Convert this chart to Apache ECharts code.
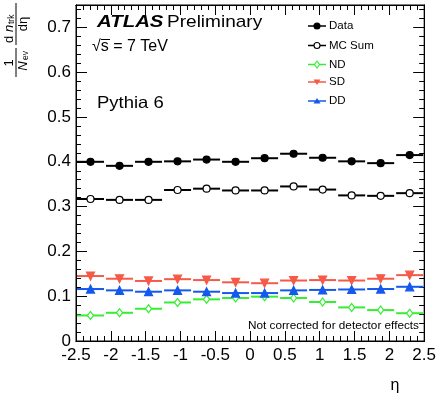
<!DOCTYPE html>
<html>
<head>
<meta charset="utf-8">
<script src="https://cdn.jsdelivr.net/npm/echarts@6/dist/echarts.min.js"></script>
<style>
  html, body { margin: 0; padding: 0; background: #fff; }
  #chart { width: 439px; height: 400px; }
</style>
</head>
<body>
<div id="chart"></div>
<script>
// Pseudorapidity bin edges (12 bins)
const etaEdges = [-2.5, -2.0833, -1.6667, -1.25, -0.8333, -0.4167, 0, 0.4167, 0.8333, 1.25, 1.6667, 2.0833, 2.5];

// Charged-particle density per bin
const dataValues  = [0.400, 0.391, 0.400, 0.401, 0.405, 0.400, 0.408, 0.418, 0.409, 0.401, 0.397, 0.415];
const mcSumValues = [0.317, 0.315, 0.315, 0.337, 0.340, 0.336, 0.336, 0.345, 0.338, 0.325, 0.324, 0.330];
const ndValues    = [0.057, 0.063, 0.072, 0.086, 0.093, 0.096, 0.099, 0.096, 0.087, 0.075, 0.069, 0.062];
const sdValues    = [0.145, 0.139, 0.134, 0.138, 0.136, 0.131, 0.129, 0.135, 0.136, 0.135, 0.139, 0.147];
const ddValues    = [0.116, 0.113, 0.110, 0.113, 0.110, 0.107, 0.107, 0.113, 0.114, 0.115, 0.116, 0.121];

const seriesNames = ['Data', 'MC Sum', 'ND', 'SD', 'DD'];
const xTickLabels = ['-2.5', '-2', '-1.5', '-1', '-0.5', '0', '0.5', '1', '1.5', '2', '2.5'];
const yTickLabels = ['0', '0.1', '0.2', '0.3', '0.4', '0.5', '0.6', '0.7'];

const FONT = '"Liberation Sans", Arial, Helvetica, sans-serif';

const styles = [
  { color: '#000000', symbol: 'circle',   size: 7,      fill: '#000000', rotate: 0 },
  { color: '#000000', symbol: 'circle',   size: 7,      fill: '#ffffff', rotate: 0 },
  { color: '#33ee33', symbol: 'diamond',  size: [6, 8], fill: '#ffffff', rotate: 0 },
  { color: '#f55a48', symbol: 'triangle', size: 8,      fill: '#f55a48', rotate: 180 },
  { color: '#1558ee', symbol: 'triangle', size: 8,      fill: '#1558ee', rotate: 0 }
];
const allValues = [dataValues, mcSumValues, ndValues, sdValues, ddValues];

const chart = echarts.init(document.getElementById('chart'), null, { renderer: 'canvas' });

const series = [];
// bin-width bars, drawn behind the markers
allValues.forEach((vals, k) => {
  series.push({
    type: 'custom',
    name: seriesNames[k] + ' bins',
    xAxisIndex: 0, yAxisIndex: 0,
    encode: { x: [0, 1], y: 2 },
    data: vals.map((v, i) => [etaEdges[i], etaEdges[i + 1], v]),
    renderItem: (params, api) => {
      const a = api.coord([api.value(0), api.value(2)]);
      const b = api.coord([api.value(1), api.value(2)]);
      return {
        type: 'line',
        shape: { x1: a[0] + 1, y1: a[1], x2: b[0] - 1, y2: b[1] },
        style: { stroke: styles[k].color, lineWidth: 2 }
      };
    },
    silent: true, z: 2
  });
});
// markers at the bin centres
allValues.forEach((vals, k) => {
  const s = styles[k];
  series.push({
    type: 'scatter',
    name: seriesNames[k],
    xAxisIndex: 0, yAxisIndex: 0,
    data: vals.map((v, i) => [(etaEdges[i] + etaEdges[i + 1]) / 2, v]),
    symbol: s.symbol,
    symbolSize: s.size,
    symbolRotate: s.rotate,
    itemStyle: { color: s.fill, borderColor: s.color, borderWidth: 1.2, opacity: 1 },
    silent: true, z: 3
  });
});

// legend drawn as graphic elements
const legendX = 308, legendYs = [26, 45.5, 64.5, 82, 101];
const legendGraphics = [];
seriesNames.forEach((name, k) => {
  const s = styles[k];
  const y = legendYs[k];
  const cx = 317;
  legendGraphics.push({
    type: 'line', shape: { x1: legendX, y1: y, x2: legendX + 18, y2: y },
    style: { stroke: s.color, lineWidth: 1.5 }
  });
  let marker;
  if (s.symbol === 'circle') {
    marker = { type: 'circle', shape: { cx: cx, cy: y, r: 3 }, style: { fill: s.fill, stroke: s.color, lineWidth: 1.1 } };
  } else if (s.symbol === 'diamond') {
    marker = { type: 'polygon', shape: { points: [[cx, y - 3.5], [cx + 2.5, y], [cx, y + 3.5], [cx - 2.5, y]] }, style: { fill: '#fff', stroke: s.color, lineWidth: 1.1 } };
  } else if (s.rotate === 180) {
    marker = { type: 'polygon', shape: { points: [[cx - 3.5, y - 2.5], [cx + 3.5, y - 2.5], [cx, y + 3]] }, style: { fill: s.fill } };
  } else {
    marker = { type: 'polygon', shape: { points: [[cx - 3.5, y + 2.5], [cx + 3.5, y + 2.5], [cx, y - 3]] }, style: { fill: s.fill } };
  }
  legendGraphics.push(marker);
  legendGraphics.push({
    type: 'text', x: 329, y: y,
    style: { text: name, font: '11.5px ' + FONT, fill: '#000', verticalAlign: 'middle' }
  });
});

// rotated y-axis title: 1/N_ev dn_trk/dη
const yTitle = {
  type: 'group', x: 3, y: 80, rotation: Math.PI / 2,
  children: [
    { type: 'text', x: 17, y: 6, style: { text: '1', font: '13px ' + FONT, fill: '#000', align: 'center', verticalAlign: 'middle' } },
    { type: 'line', shape: { x1: 3, y1: 13, x2: 32, y2: 13 }, style: { stroke: '#000', lineWidth: 1 } },
    { type: 'text', x: 14, y: 20, style: { text: 'N', font: 'italic 13px ' + FONT, fill: '#000', align: 'center', verticalAlign: 'middle' } },
    { type: 'text', x: 20, y: 23, style: { text: 'ev', font: '8.5px ' + FONT, fill: '#000', align: 'left', verticalAlign: 'middle' } },
    { type: 'text', x: 37, y: 6, style: { text: 'd', font: '13px ' + FONT, fill: '#000', align: 'left', verticalAlign: 'middle' } },
    { type: 'text', x: 48, y: 6, style: { text: 'n', font: 'italic 13px ' + FONT, fill: '#000', align: 'left', verticalAlign: 'middle' } },
    { type: 'text', x: 56, y: 9, style: { text: 'trk', font: '8.5px ' + FONT, fill: '#000', align: 'left', verticalAlign: 'middle' } },
    { type: 'line', shape: { x1: 35, y1: 13, x2: 77, y2: 13 }, style: { stroke: '#000', lineWidth: 1 } },
    { type: 'text', x: 56, y: 20, style: { text: 'dη', font: '13px ' + FONT, fill: '#000', align: 'center', verticalAlign: 'middle' } }
  ]
};

const textGraphics = [
  { type: 'text', x: 97, y: 22, scaleX: 1.2, style: { text: 'ATLAS', font: 'italic bold 17px ' + FONT, fill: '#000', verticalAlign: 'middle' } },
  { type: 'text', x: 167, y: 22, scaleX: 1.12, style: { text: 'Preliminary', font: '17px ' + FONT, fill: '#000', verticalAlign: 'middle' } },
  { type: 'text', x: 92, y: 47, style: { text: '√s = 7 TeV', font: '16px ' + FONT, fill: '#000', verticalAlign: 'middle' } },
  { type: 'line', shape: { x1: 101, y1: 39.5, x2: 110, y2: 39.5 }, style: { stroke: '#000', lineWidth: 1 } },
  { type: 'text', x: 97, y: 103, scaleX: 1.12, style: { text: 'Pythia 6', font: '16.5px ' + FONT, fill: '#000', verticalAlign: 'middle' } },
  { type: 'text', x: 419, y: 326, scaleX: 1.12, style: { text: 'Not corrected for detector effects', font: '10.5px ' + FONT, fill: '#000', align: 'right', verticalAlign: 'middle' } },
  { type: 'text', x: 395, y: 386, style: { text: 'η', font: '16px ' + FONT, fill: '#000', align: 'center', verticalAlign: 'middle' } }
];

const axisLineStyle = { show: true, onZero: false, lineStyle: { color: '#000', width: 1 } };
const baseX = { type: 'value', min: -2.5, max: 2.5, splitLine: { show: false }, axisLine: axisLineStyle };
const baseY = { type: 'value', min: 0, max: 0.75, splitLine: { show: false }, axisLine: axisLineStyle };

function fmt(v, labels) {
  const s = String(Math.round(v * 10) / 10);
  return labels.indexOf(s) >= 0 ? s : '';
}

const option = {
  animation: false,
  backgroundColor: '#fff',
  grid: { left: 76, right: 12, top: 5, bottom: 59, show: true, borderColor: '#000', borderWidth: 1, backgroundColor: 'transparent' },
  xAxis: [
    Object.assign({}, baseX, { position: 'bottom', interval: 0.5,
      axisTick: { show: true, inside: true, length: 10, lineStyle: { color: '#000' } },
      axisLabel: { show: true, margin: 6, color: '#000', fontSize: 17, fontFamily: FONT,
        formatter: v => fmt(v, xTickLabels) } }),
    Object.assign({}, baseX, { position: 'bottom', interval: 0.1,
      axisTick: { show: true, inside: true, length: 5, lineStyle: { color: '#000' } },
      axisLabel: { show: false } }),
    Object.assign({}, baseX, { position: 'top', interval: 0.5,
      axisTick: { show: true, inside: true, length: 10, lineStyle: { color: '#000' } },
      axisLabel: { show: false } }),
    Object.assign({}, baseX, { position: 'top', interval: 0.1,
      axisTick: { show: true, inside: true, length: 5, lineStyle: { color: '#000' } },
      axisLabel: { show: false } })
  ],
  yAxis: [
    Object.assign({}, baseY, { position: 'left', interval: 0.1,
      axisTick: { show: true, inside: true, length: 11, lineStyle: { color: '#000' } },
      axisLabel: { show: true, margin: 5, color: '#000', fontSize: 17, fontFamily: FONT,
        showMaxLabel: false, formatter: v => fmt(v, yTickLabels) } }),
    Object.assign({}, baseY, { position: 'left', interval: 0.02,
      axisTick: { show: true, inside: true, length: 5, lineStyle: { color: '#000' } },
      axisLabel: { show: false } }),
    Object.assign({}, baseY, { position: 'right', interval: 0.1,
      axisTick: { show: true, inside: true, length: 11, lineStyle: { color: '#000' } },
      axisLabel: { show: false } }),
    Object.assign({}, baseY, { position: 'right', interval: 0.02,
      axisTick: { show: true, inside: true, length: 5, lineStyle: { color: '#000' } },
      axisLabel: { show: false } })
  ],
  series: series,
  graphic: { elements: [yTitle].concat(textGraphics, legendGraphics) }
};

chart.setOption(option);
</script>
</body>
</html>
